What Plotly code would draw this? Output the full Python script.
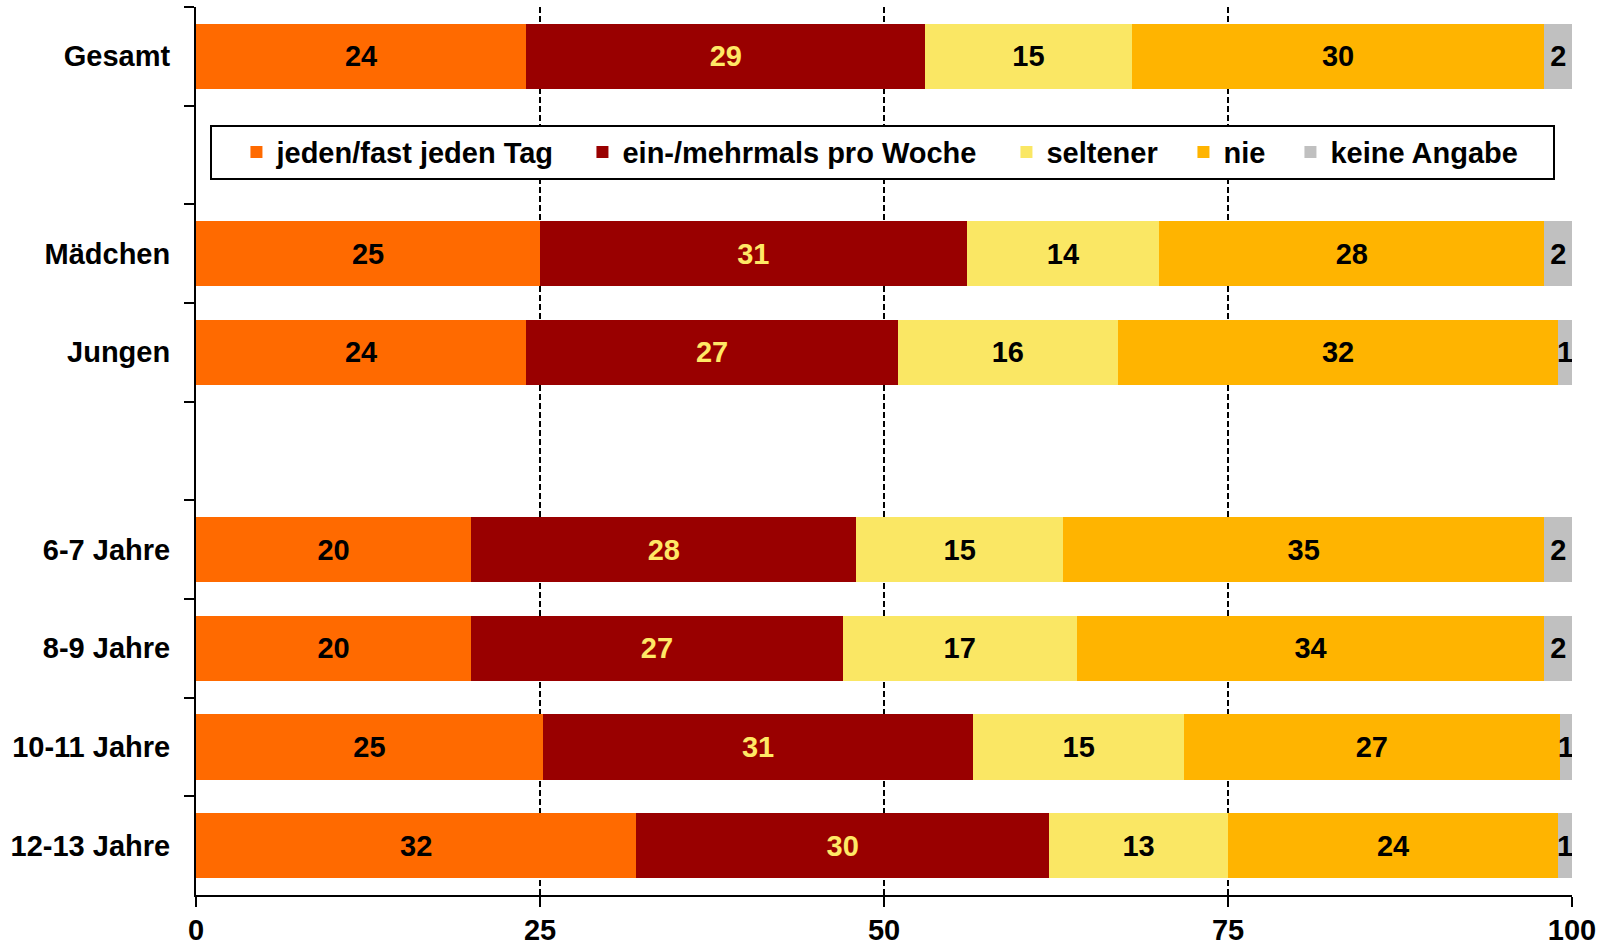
import plotly.graph_objects as go

# Categories (top to bottom); blank slots hold the legend and a spacer
slots = ["Gesamt", " ", "Mädchen", "Jungen", "  ", "6-7 Jahre", "8-9 Jahre", "10-11 Jahre", "12-13 Jahre"]
groups = ["Gesamt", "Mädchen", "Jungen", "6-7 Jahre", "8-9 Jahre", "10-11 Jahre", "12-13 Jahre"]

series_names = ["jeden/fast jeden Tag", "ein-/mehrmals pro Woche", "seltener", "nie", "keine Angabe"]
jeden = [24, 25, 24, 20, 20, 25.2, 32]
woche = [29, 31, 27, 28, 27, 31.3, 30]
seltener = [15, 14, 16, 15, 17, 15.3, 13]
nie = [30, 28, 32, 35, 34, 27.3, 24]
keine = [2, 2, 1, 2, 2, 0.9, 1]

values = [jeden, woche, seltener, nie, keine]
colors = ["#FF6A00", "#990000", "#FAE764", "#FFB400", "#C0C0C0"]
text_colors = ["black", "#FFE866", "black", "black", "black"]
legend_widths = [277, 355, 108, 38, 218]

FONT = "Liberation Sans, Arial, sans-serif"
FS = 29

fig = go.Figure()
for name, vals, col, tcol, lw in zip(series_names, values, colors, text_colors, legend_widths):
    fig.add_trace(go.Bar(
        y=groups, x=vals, name=name, orientation="h",
        marker=dict(color=col, line=dict(width=0)),
        texttemplate="<b>%{x:.0f}</b>", textposition="inside",
        insidetextanchor="middle", textangle=0, constraintext="none",
        textfont=dict(family=FONT, size=FS, color=tcol),
        legendwidth=lw,
    ))

fig.update_layout(
    barmode="stack",
    bargap=0.34,
    width=1614, height=946,
    margin=dict(l=196, r=42, t=7, b=51, pad=0),
    paper_bgcolor="white", plot_bgcolor="white",
    font=dict(family=FONT, size=FS, color="black"),
    showlegend=True,
    legend=dict(
        orientation="h", x=0.0105, y=0.8675, xanchor="left", yanchor="top",
        bgcolor="white", bordercolor="black", borderwidth=2,
        font=dict(family=FONT, size=FS, color="black", weight="bold"),
        indentation=24, traceorder="normal",
    ),
    xaxis=dict(
        range=[0, 100], tickvals=[0, 25, 50, 75, 100],
        showline=True, linecolor="black", linewidth=2,
        ticks="outside", ticklen=10, tickwidth=2, tickcolor="black",
        showgrid=True, gridcolor="black", gridwidth=1.5, griddash="6px,3px",
        zeroline=False, automargin=False, ticklabelstandoff=-2,
        tickfont=dict(family=FONT, size=FS, color="black", weight="bold"),
    ),
    yaxis=dict(
        type="category", categoryorder="array", categoryarray=slots,
        range=[8.5, -0.5],
        showline=True, linecolor="black", linewidth=2,
        ticks="outside", ticklen=10, tickwidth=2, tickcolor="black",
        tickson="boundaries", showgrid=False, zeroline=False, automargin=False,
        tickfont=dict(family=FONT, size=FS, color="black", weight="bold"),
        ticklabelstandoff=18,
    ),
)

fig.write_html("out.html", config={"displayModeBar": False},
               post_script="document.body.style.margin='0';")
